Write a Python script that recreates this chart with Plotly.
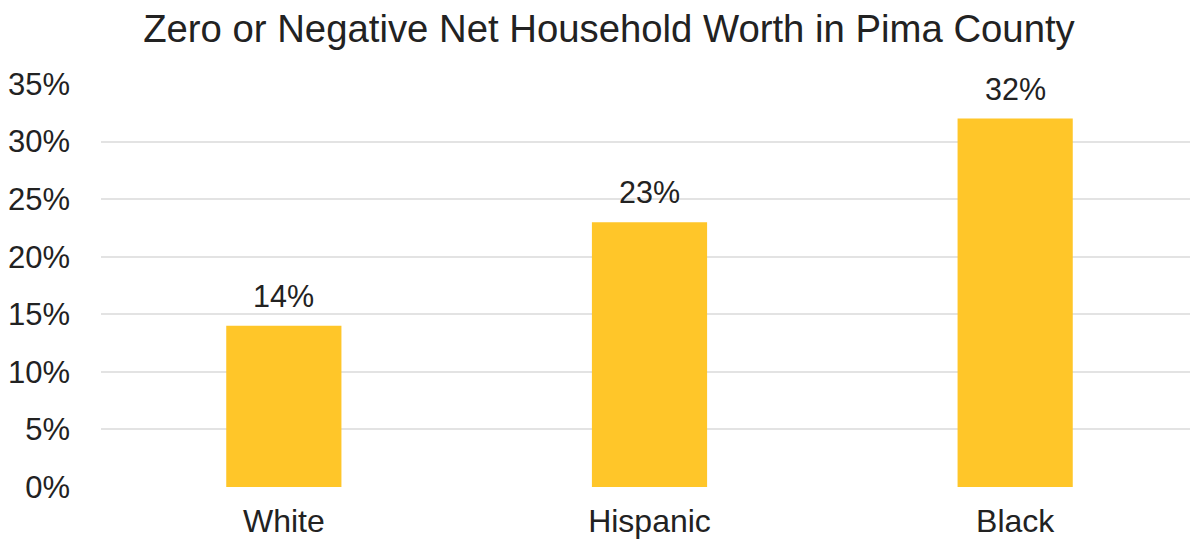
import plotly.graph_objects as go

categories = ["White", "Hispanic", "Black"]
values = [0.14, 0.23, 0.32]
labels = ["14%", "23%", "32%"]
tick_vals = [0, 0.05, 0.10, 0.15, 0.20, 0.25, 0.30, 0.35]
tick_text = ["0%", "5%", "10%", "15%", "20%", "25%", "30%", "35%"]

FONT = "Liberation Sans, Arial, Helvetica, sans-serif"
TXT = "#222222"

fig = go.Figure(go.Bar(x=categories, y=values, marker_color="#FFC629",
                       marker_line_width=0, hoverinfo="skip"))

for c, v, t in zip(categories, values, labels):
    fig.add_annotation(x=c, y=v, text=t, showarrow=False, yanchor="bottom",
                       yshift=11, font=dict(family=FONT, size=30.5, color=TXT))

fig.update_layout(
    width=1190, height=531,
    margin=dict(l=88, r=0, t=76, b=45),
    paper_bgcolor="white", plot_bgcolor="white",
    bargap=0.685,
    showlegend=False,
    title=dict(text="Zero or Negative Net Household Worth in Pima County",
               x=0.505, xanchor="center", y=0.962, yanchor="middle",
               font=dict(family=FONT, size=38.3, color=TXT)),
    xaxis=dict(showgrid=False, showline=False, ticks="",
               ticklabelstandoff=12,
               tickfont=dict(family=FONT, size=32, color=TXT)),
    yaxis=dict(range=[0, 0.35], tickvals=tick_vals, ticktext=tick_text,
               showgrid=True, gridcolor="#e3e3e3", gridwidth=2,
               zeroline=False, showline=False, ticks="",
               ticklabelstandoff=30,
               tickfont=dict(family=FONT, size=31, color=TXT)),
)

fig.write_html("out.html")
